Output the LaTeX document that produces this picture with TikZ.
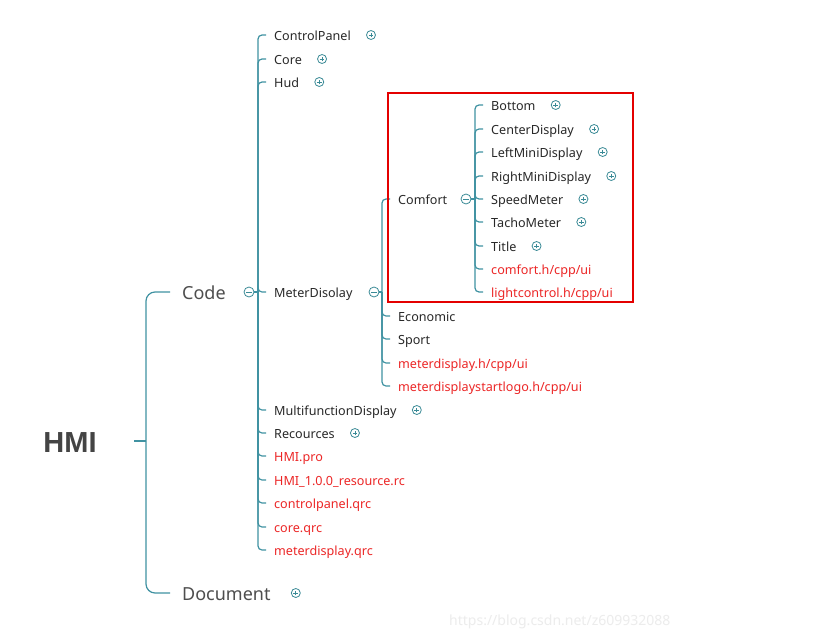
\documentclass[tikz,border=0pt]{standalone}
\usepackage{fontspec}
\setmainfont{Noto Sans}
\newfontfamily\rootfont{Liberation Sans}
\definecolor{linec}{RGB}{64,146,162}
\definecolor{iconc}{RGB}{58,138,150}
\definecolor{redt}{RGB}{236,38,38}
\definecolor{boxred}{RGB}{228,0,0}
\definecolor{darkt}{RGB}{40,40,40}
\definecolor{lvlt}{RGB}{78,78,78}
\definecolor{roott}{RGB}{68,68,68}
\definecolor{wm}{RGB}{236,236,236}
\tikzset{
  conn/.style={draw=linec,line width=1.2pt,rounded corners=4pt},
  leaf/.style={anchor=west,inner xsep=8pt,inner ysep=1pt,text height=12pt,text depth=1.5pt,text=darkt,font=\fontsize{12.6}{14}\selectfont},
  rleaf/.style={leaf,text=redt},
  lvltwo/.style={anchor=west,inner xsep=12pt,inner ysep=1pt,text height=16pt,text depth=2pt,text=lvlt,font=\fontsize{18}{20}\selectfont},
  rootn/.style={text=roott,font=\rootfont\bfseries\fontsize{29}{32}\selectfont,minimum width=128pt,inner sep=0pt},
  plusc/.style={circle,draw=iconc,line width=0.8pt,minimum size=9pt,inner sep=0pt,
    path picture={\draw[iconc,line width=0.8pt]
      ([xshift=-2.4pt]path picture bounding box.center) -- ([xshift=2.4pt]path picture bounding box.center)
      ([yshift=-2.4pt]path picture bounding box.center) -- ([yshift=2.4pt]path picture bounding box.center);}},
  minusc/.style={circle,draw=iconc,line width=0.8pt,minimum size=10pt,inner sep=0pt,
    path picture={\draw[iconc,line width=0.8pt]
      ([xshift=-2.6pt]path picture bounding box.center) -- ([xshift=2.6pt]path picture bounding box.center);}},
}
\begin{document}
\begin{tikzpicture}[x=1pt,y=-1pt]
\useasboundingbox (0,0) rectangle (815,643);
\fill[white] (0,0) rectangle (815,643);

% root
\node[rootn] (hmi) at (70,443) {HMI};
\coordinate (hj) at (146,441);
\node[lvltwo] (code) at (170,292) {Code};
\node[lvltwo] (doc) at (170,593) {Document};
\node[plusc] (docP) at ([xshift=13pt]doc.east) {};
\draw[conn] (hmi.east |- hj) -- (hj);
\draw[conn,rounded corners=9pt] (hj) |- (code.west);
\draw[conn,rounded corners=9pt] (hj) |- (doc.west);

% Code children
\node[minusc] (codeC) at (249,292) {};
\coordinate (cj) at (258,292);
\draw[conn] (codeC.east) -- (cj);
\node[leaf] (cp) at (266,35) {ControlPanel};
\node[leaf] (core) at (266,59) {Core};
\node[leaf] (hud) at (266,82) {Hud};
\node[leaf] (md) at (266,292) {MeterDisolay};
\node[leaf] (mf) at (266,410) {MultifunctionDisplay};
\node[leaf] (rec) at (266,433) {Recources};
\node[rleaf] (pro) at (266,456) {HMI.pro};
\node[rleaf] (rc) at (266,480) {HMI\_1.0.0\_resource.rc};
\node[rleaf] (cpq) at (266,503) {controlpanel.qrc};
\node[rleaf] (coq) at (266,527) {core.qrc};
\node[rleaf] (mdq) at (266,550) {meterdisplay.qrc};
\foreach \n in {cp,core,hud,md,mf,rec,pro,rc,cpq,coq,mdq}
  \draw[conn] (cj) |- (\n.west);
\foreach \n in {cp,core,hud,mf,rec}
  \node[plusc] (\n P) at ([xshift=12pt]\n.east) {};

% MeterDisolay children
\node[minusc] (mdC) at (374,292) {};
\coordinate (mj) at (382,292);
\draw[conn] (mdC.east) -- (mj);
\node[leaf] (comf) at (390,199) {Comfort};
\node[leaf] (eco) at (390,316) {Economic};
\node[leaf] (sport) at (390,339) {Sport};
\node[rleaf] (mdh) at (390,363) {meterdisplay.h/cpp/ui};
\node[rleaf] (mdl) at (390,386) {meterdisplaystartlogo.h/cpp/ui};
\foreach \n in {comf,eco,sport,mdh,mdl}
  \draw[conn] (mj) |- (\n.west);

% Comfort children
\node[minusc] (comfC) at (466,199) {};
\coordinate (fj) at (475,199);
\draw[conn] (comfC.east) -- (fj);
\node[leaf] (bot) at (483,105) {Bottom};
\node[leaf] (cen) at (483,129) {CenterDisplay};
\node[leaf] (lmd) at (483,152) {LeftMiniDisplay};
\node[leaf] (rmd) at (483,176) {RightMiniDisplay};
\node[leaf] (spd) at (483,199) {SpeedMeter};
\node[leaf] (tach) at (483,222) {TachoMeter};
\node[leaf] (tit) at (483,246) {Title};
\node[rleaf] (cfh) at (483,269) {comfort.h/cpp/ui};
\node[rleaf] (lch) at (483,292) {lightcontrol.h/cpp/ui};
\foreach \n in {bot,cen,lmd,rmd,spd,tach,tit,cfh,lch}
  \draw[conn] (fj) |- (\n.west);
\foreach \n in {bot,cen,lmd,rmd,spd,tach,tit}
  \node[plusc] (\n P) at ([xshift=12pt]\n.east) {};

% highlight box
\draw[boxred,line width=1.6pt] (388,93) rectangle (633,302);

% watermark
\node[text=wm,font=\fontsize{14}{16}\selectfont,anchor=west,inner sep=0pt] (wmk) at (449,622) {https://blog.csdn.net/z609932088};
\end{tikzpicture}
\end{document}
